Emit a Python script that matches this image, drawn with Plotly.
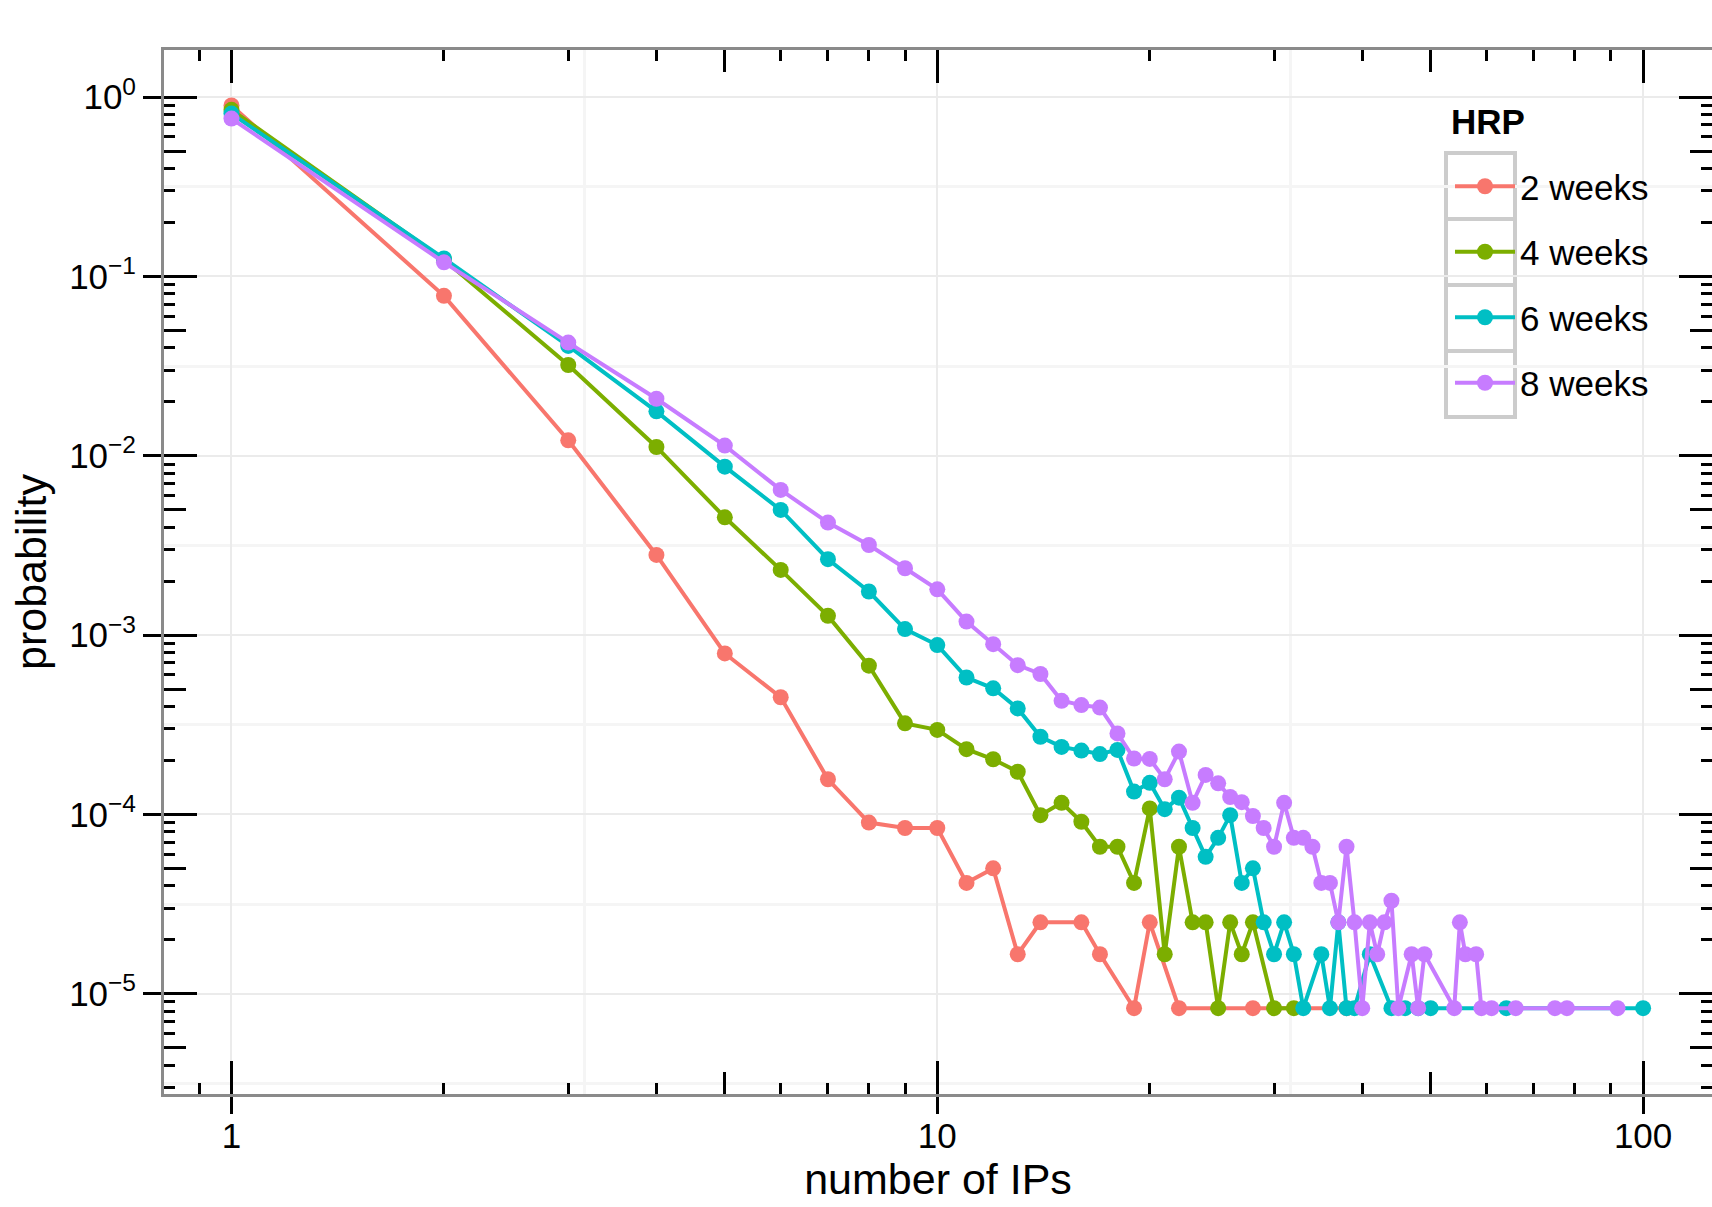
import plotly.graph_objects as go

# ---------------- data ----------------
series_names = ["2 weeks", "4 weeks", "6 weeks", "8 weeks"]
series_colors = ["#F8766D", "#7CAE00", "#00BFC4", "#C77CFF"]
legend_title = "HRP"

x_2w = [1, 2, 3, 4, 5, 6, 7, 8, 9, 10, 11, 12, 13, 14, 16, 17, 19, 20, 22, 28, 38]
y_2w = [0.9, 0.078, 0.0122, 0.0028, 0.00079, 0.00045, 0.000157, 9.0e-5, 8.4e-5, 8.4e-5,
        4.15e-5, 5.0e-5, 1.66e-5, 2.5e-5, 2.5e-5, 1.66e-5, 8.3e-6, 2.5e-5, 8.3e-6, 8.3e-6, 8.3e-6]

x_4w = [1, 2, 3, 4, 5, 6, 7, 8, 9, 10, 11, 12, 13, 14, 15, 16, 17, 18, 19, 20,
        21, 22, 23, 24, 25, 26, 27, 28, 30, 32]
y_4w = [0.85, 0.124, 0.0321, 0.0112, 0.00454, 0.00231, 0.00128, 0.000675, 0.000322, 0.000296,
        0.000231, 0.000203, 0.000173, 9.9e-5, 0.000116, 9.1e-5, 6.6e-5, 6.6e-5, 4.15e-5, 0.000108,
        1.66e-5, 6.6e-5, 2.5e-5, 2.5e-5, 8.3e-6, 2.5e-5, 1.66e-5, 2.5e-5, 8.3e-6, 8.3e-6]

x_6w = [1, 2, 3, 4, 5, 6, 7, 8, 9, 10, 11, 12, 13, 14, 15, 16, 17, 18, 19, 20,
        21, 22, 23, 24, 25, 26, 27, 28, 29, 30, 31, 32, 33, 35, 36, 37, 38, 39, 41,
        44, 46, 48, 50, 64, 100]
y_6w = [0.81, 0.126, 0.041, 0.0177, 0.0087, 0.00499, 0.00265, 0.00175, 0.00108, 0.00088,
        0.00058, 0.000505, 0.00039, 0.000271, 0.000238, 0.000227, 0.000217, 0.000229, 0.000134, 0.00015,
        0.000107, 0.000124, 8.4e-5, 5.8e-5, 7.4e-5, 9.9e-5, 4.15e-5, 5.0e-5, 2.5e-5, 1.66e-5,
        2.5e-5, 1.66e-5, 8.3e-6, 1.66e-5, 8.3e-6, 2.5e-5, 8.3e-6, 8.3e-6, 1.66e-5,
        8.3e-6, 8.3e-6, 8.3e-6, 8.3e-6, 8.3e-6, 8.3e-6]

x_8w = [1, 2, 3, 4, 5, 6, 7, 8, 9, 10, 11, 12, 13, 14, 15, 16, 17, 18, 19, 20,
        21, 22, 23, 24, 25, 26, 27, 28, 29, 30, 31, 32, 33, 34, 35, 36, 37, 38, 39, 40,
        41, 42, 43, 44, 45, 47, 48, 49, 54, 55, 56, 58, 59, 61, 66, 75, 78, 92]
y_8w = [0.76, 0.12, 0.0428, 0.0208, 0.0114, 0.00645, 0.00424, 0.00318, 0.00236, 0.0018,
        0.00119, 0.00089, 0.00068, 0.000607, 0.00043, 0.000407, 0.000394, 0.000283, 0.000205, 0.000204,
        0.000157, 0.000224, 0.000116, 0.000166, 0.000149, 0.000125, 0.000117, 9.8e-5, 8.4e-5, 6.6e-5,
        0.000116, 7.4e-5, 7.4e-5, 6.6e-5, 4.15e-5, 4.15e-5, 2.5e-5, 6.6e-5, 2.5e-5, 8.3e-6,
        2.5e-5, 1.66e-5, 2.5e-5, 3.3e-5, 8.3e-6, 1.66e-5, 8.3e-6, 1.66e-5, 8.3e-6, 2.5e-5,
        1.66e-5, 1.66e-5, 8.3e-6, 8.3e-6, 8.3e-6, 8.3e-6, 8.3e-6, 8.3e-6]

x_major = [1, 10, 100]
x_major_text = ["1", "10", "100"]
x_mid = [5, 50]
x_minor = [0.8, 0.9, 2, 3, 4, 6, 7, 8, 9, 20, 30, 40, 60, 70, 80, 90]
x_halfgrid = [10 ** 0.5, 10 ** 1.5]

y_major = [1, 1e-1, 1e-2, 1e-3, 1e-4, 1e-5]
y_major_text = ["10<sup>0</sup>", "10<sup>\u22121</sup>", "10<sup>\u22122</sup>",
                "10<sup>\u22123</sup>", "10<sup>\u22124</sup>", "10<sup>\u22125</sup>"]
y_mid = [5 * 10 ** k for k in range(-6, 0)]
y_minor = [m * 10 ** k for k in range(-6, 0) for m in (2, 3, 4, 6, 7, 8, 9)]
y_halfgrid = [10 ** (-k - 0.5) for k in range(0, 6)]

series_x = [x_2w, x_4w, x_6w, x_8w]
series_y = [y_2w, y_4w, y_6w, y_8w]

# ---------------- style ----------------
W, H = 1712, 1207
ML, MR, MT, MB = 164, 0, 50, 113
PW, PH = W - ML - MR, H - MT - MB
FONT = "Liberation Sans, Arial, sans-serif"
XR = [-0.0956, 2.0976]
YR = [-5.5594, 0.2632]
AXIS_GRAY = "#8A8A8A"

# legend geometry (pixels)
LEG_LEFT = 1450
LEG_TOP = 157
KEY_X0, KEY_X1 = 1446, 1515
KEY_TOP, KEY_H = 153, 66
TITLE_X, TITLE_Y = 1449, 121


def px_x(px):
    return (px - ML) / PW


def px_y(py):
    return (H - MB - py) / PH


fig = go.Figure()
for name, col, xs, ys in zip(series_names, series_colors, series_x, series_y):
    fig.add_trace(go.Scatter(
        x=xs, y=ys, name=name, mode="lines+markers", legendgroup=name,
        line=dict(color=col, width=4), marker=dict(color=col, size=16),
    ))

common_x = dict(type="log", range=XR, showgrid=False, zeroline=False, automargin=False)
common_y = dict(type="log", range=YR, showgrid=False, zeroline=False, automargin=False)

fig.update_layout(
    width=W, height=H,
    margin=dict(l=ML, r=MR, t=MT, b=MB, pad=0, autoexpand=False),
    paper_bgcolor="white", plot_bgcolor="white",
    font=dict(family=FONT, size=35, color="black"),
    showlegend=True,
    legend=dict(
        x=px_x(LEG_LEFT), y=px_y(LEG_TOP),
        xanchor="left", yanchor="top",
        font=dict(size=35, family=FONT), bgcolor="rgba(255,255,255,0)",
        tracegroupgap=17, itemwidth=60,
    ),
    xaxis=dict(
        type="log", range=XR, tickmode="array", tickvals=x_major, ticktext=x_major_text,
        ticks="outside", ticklen=17, tickwidth=3, tickcolor="black",
        tickfont=dict(size=35, family=FONT, color="black"), ticklabelstandoff=-8,
        showline=True, linecolor=AXIS_GRAY, linewidth=3, mirror=True, automargin=False,
        showgrid=True, gridcolor="#EBEBEB", gridwidth=2, zeroline=False,
        minor=dict(tickmode="array", tickvals=x_halfgrid, ticks="", showgrid=True,
                   gridcolor="#F5F5F5", gridwidth=3),
        title=dict(text="number of IPs", font=dict(size=43, family=FONT, color="black"),
                   standoff=4),
    ),
    xaxis2=dict(
        common_x, overlaying="x", anchor="y", side="bottom",
        tickmode="array", tickvals=x_major, showticklabels=False,
        ticks="inside", ticklen=33, tickwidth=3, tickcolor="black",
        showline=True, linecolor=AXIS_GRAY, linewidth=3, mirror="ticks",
        minor=dict(tickmode="array", tickvals=x_minor, ticks="inside", ticklen=11,
                   tickwidth=3, tickcolor="black", showgrid=False),
    ),
    xaxis3=dict(
        common_x, overlaying="x", anchor="y", side="bottom",
        tickmode="array", tickvals=x_mid, showticklabels=False,
        ticks="inside", ticklen=22, tickwidth=3, tickcolor="black",
        showline=True, linecolor=AXIS_GRAY, linewidth=3, mirror="ticks",
    ),
    yaxis=dict(
        type="log", range=YR, tickmode="array", tickvals=y_major, ticktext=y_major_text,
        ticks="outside", ticklen=18, tickwidth=3, tickcolor="black",
        tickfont=dict(size=35, family=FONT, color="black"),
        showline=True, linecolor=AXIS_GRAY, linewidth=3, mirror=True, automargin=False,
        showgrid=True, gridcolor="#EBEBEB", gridwidth=2, zeroline=False,
        minor=dict(tickmode="array", tickvals=y_halfgrid, ticks="", showgrid=True,
                   gridcolor="#F5F5F5", gridwidth=3),
        title=dict(text="probability", font=dict(size=43, family=FONT, color="black"),
                   standoff=10),
    ),
    yaxis2=dict(
        common_y, overlaying="y", anchor="x", side="left",
        tickmode="array", tickvals=y_major, showticklabels=False,
        ticks="inside", ticklen=33, tickwidth=3, tickcolor="black",
        showline=True, linecolor=AXIS_GRAY, linewidth=3, mirror="ticks",
        minor=dict(tickmode="array", tickvals=y_minor, ticks="inside", ticklen=11,
                   tickwidth=3, tickcolor="black", showgrid=False),
    ),
    yaxis3=dict(
        common_y, overlaying="y", anchor="x", side="left",
        tickmode="array", tickvals=y_mid, showticklabels=False,
        ticks="inside", ticklen=22, tickwidth=3, tickcolor="black",
        showline=True, linecolor=AXIS_GRAY, linewidth=3, mirror="ticks",
    ),
)

# legend title and key boxes (ggplot-style legend decoration)
fig.add_annotation(
    text="<b>" + legend_title + "</b>", xref="paper", yref="paper",
    x=px_x(TITLE_X), y=px_y(TITLE_Y), xanchor="left", yanchor="middle",
    showarrow=False, font=dict(size=35, family=FONT, color="black"),
)
for i in range(len(series_names)):
    fig.add_shape(
        type="rect", xref="paper", yref="paper",
        x0=px_x(KEY_X0), x1=px_x(KEY_X1),
        y0=px_y(KEY_TOP + i * KEY_H), y1=px_y(KEY_TOP + (i + 1) * KEY_H),
        line=dict(color="#CCCCCC", width=4), fillcolor="rgba(0,0,0,0)", layer="below",
    )

# invisible traces so overlay axes are drawn
fig.add_trace(go.Scatter(x=[1], y=[1], xaxis="x2", yaxis="y2", mode="markers",
                         marker=dict(opacity=0), showlegend=False, hoverinfo="skip"))
fig.add_trace(go.Scatter(x=[1], y=[1], xaxis="x3", yaxis="y3", mode="markers",
                         marker=dict(opacity=0), showlegend=False, hoverinfo="skip"))

fig.write_html(
    "out.html",
    config={"displayModeBar": False},
    post_script="document.body.style.margin='0px';document.body.style.overflow='hidden';",
)
